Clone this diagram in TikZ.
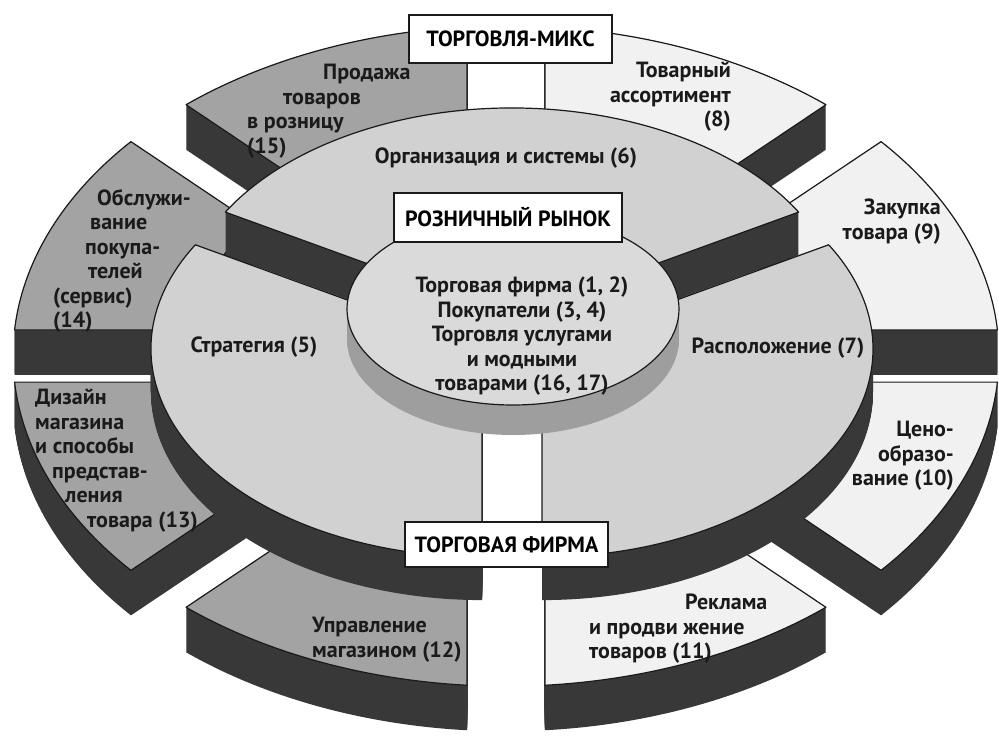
\documentclass[tikz,border=0pt]{standalone}
\usepackage{fontspec}
\setmainfont{PT Sans}
\usetikzlibrary{positioning}
\definecolor{ink}{HTML}{1A1A1A}
\definecolor{darkside}{HTML}{383838}
\definecolor{ringgray}{HTML}{A3A3A3}
\definecolor{ringpale}{HTML}{F1F1F1}
\definecolor{discgray}{HTML}{D1D1D1}
\definecolor{coregray}{HTML}{DADADA}
\definecolor{rimgray}{HTML}{9E9E9E}
\tikzset{
  face/.style={draw=ink, line width=1.2pt, line join=round},
  outer/.style={shift={(506,380)}, yscale=0.67},
  orgpart/.style={shift={(512,419.8)}, yscale=0.629},
  stratpart/.style={shift={(482,387.1)}, yscale=0.629},
  placepart/.style={shift={(542,387.1)}, yscale=0.629},
  tag/.style={draw=ink, fill=white, line width=1.2pt, font=\bfseries\fontsize{22}{24}\selectfont, inner sep=0pt},
  lab/.style={font=\bfseries\fontsize{22}{24.5}\selectfont, text=ink, inner sep=0pt}
}
\newcommand\slab[8][outer]{%
  \pgfmathsetmacro\oa{#4+asin(#6/#2)}%
  \pgfmathsetmacro\ob{#5-asin(#6/#2)}%
  \pgfmathsetmacro\ia{#4+asin(#6/#3)}%
  \pgfmathsetmacro\ib{#5-asin(#6/#3)}%
  \foreach \t in {0,...,#7}{%
    \fill[darkside, yshift=\t-#7, #1] (\oa:#2) arc[start angle=\oa, end angle=\ob, radius=#2]
      -- (\ib:#3) arc[start angle=\ib, end angle=\ia, radius=#3] -- cycle;}%
  \filldraw[face, fill=#8, #1] (\oa:#2) arc[start angle=\oa, end angle=\ob, radius=#2]
    -- (\ib:#3) arc[start angle=\ib, end angle=\ia, radius=#3] -- cycle;}

\begin{document}
\begin{tikzpicture}[x=1pt,y=1pt]
\useasboundingbox (0,0) rectangle (999,736);
\fill[white] (0,0) rectangle (999,736);
\foreach \a/\b/\c in {45/90/ringpale,90/135/ringgray,0/45/ringpale,135/180/ringgray,-45/0/ringpale,180/225/ringgray,-90/-45/ringpale,225/270/ringgray}{%
  \slab{493}{320}{\a}{\b}{39}{45}{\c}}
\slab[orgpart]{331}{1}{30}{150}{0}{43}{discgray}
\slab[stratpart]{331}{1}{150}{270}{0}{43}{discgray}
\slab[placepart]{331}{1}{-90}{30}{0}{43}{discgray}
\foreach \t in {0,...,30}{\fill[rimgray, yshift=\t-30] (513,427) ellipse[x radius=166, y radius=96];}
\filldraw[face, fill=coregray] (513,427) ellipse[x radius=166, y radius=96];
\node[tag, minimum width=203, minimum height=48] (mix) at (510.5,697) {ТОРГОВЛЯ-МИКС};
\node[tag, minimum width=228, minimum height=49] (market) at (508,518.5) {РОЗНИЧНЫЙ РЫНОК};
\node[tag, minimum width=203, minimum height=45] (firm) at (506.5,191.5) {ТОРГОВАЯ ФИРМА};
\node[lab, align=left, anchor=north west] (s15) at (247,672) {\hspace*{76pt}Продажа\\\hspace*{36pt}товаров\\в розницу\\(15)};
\node[lab, align=right, anchor=north east] (s8) at (731,674) {Товарный\\ассортимент\\(8)};
\node[lab, align=right, anchor=north east] (s9) at (941,537) {Закупка\\товара (9)};
\node[lab, align=right, anchor=north east] (s10) at (954,315) {Цено-\\образо-\\вание (10)};
\node[lab, align=left, anchor=north west] (s11) at (589,142) {\hspace*{96pt}Реклама\\и продви жение\\товаров (11)};
\node[lab, align=left, anchor=north west] (s12) at (312,119) {Управление\\магазином (12)};
\node[lab, align=left, anchor=north west] (s13) at (35,347) {Дизайн\\магазина\\и способы\\\hspace*{17pt}представ-\\\hspace*{30pt}ления\\\hspace*{52pt}товара (13)};
\node[lab, align=left, anchor=north west] (s14) at (53,547) {\hspace*{44pt}Обслужи-\\\hspace*{37pt}вание\\\hspace*{32pt}покупа-\\\hspace*{35pt}телей\\(сервис)\\(14)};
\node[lab] (org) at (506,578) {Организация и системы (6)};
\node[lab] (strat) at (254,389) {Стратегия (5)};
\node[lab] (place) at (778,388) {Расположение (7)};
\node[lab, align=center] (core) at (522,399.5) {Торговая фирма (1, 2)\\Покупатели (3, 4)\\Торговля услугами\\и модными\\товарами (16, 17)};
\end{tikzpicture}
\end{document}
